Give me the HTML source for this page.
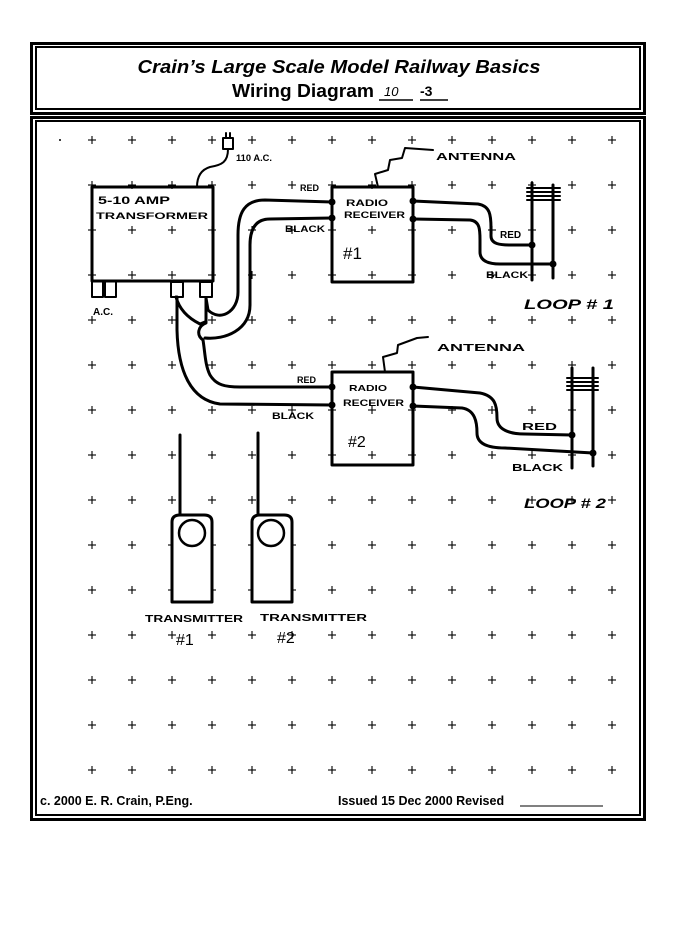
<!DOCTYPE html>
<html><head><meta charset="utf-8"><style>
html,body{margin:0;padding:0;background:#fff;}
svg{display:block;}
.h{font-family:"Liberation Sans",sans-serif;font-weight:bold;fill:#000;}
</style></head><body>
<svg width="680" height="936" viewBox="0 0 680 936" xmlns="http://www.w3.org/2000/svg">
<defs>
<pattern id="cross" patternUnits="userSpaceOnUse" x="87" y="135" width="40" height="45">
<line x1="1" y1="5" x2="9" y2="5" stroke="#000" stroke-width="1.1"/>
<line x1="5" y1="1" x2="5" y2="9" stroke="#000" stroke-width="1.1"/>
</pattern>
</defs>
<g fill="none" stroke="#000">
  <rect x="31.5" y="43.5" width="613" height="70" stroke-width="3"/>
  <rect x="36" y="47" width="604" height="62" stroke-width="2"/>
  <rect x="31.5" y="117.5" width="613" height="702" stroke-width="3"/>
  <rect x="36" y="121" width="604" height="694" stroke-width="2"/>
</g>
<text class="h" x="339" y="73" font-size="18.5" font-style="italic" text-anchor="middle" textLength="403" lengthAdjust="spacingAndGlyphs">Crain’s Large Scale Model Railway Basics</text>
<text class="h" x="232" y="97" font-size="18" textLength="142" lengthAdjust="spacingAndGlyphs">Wiring Diagram</text>
<text x="384" y="96" font-family="Liberation Sans,sans-serif" font-size="13" font-style="italic">10</text>
<text x="420" y="96" font-family="Liberation Sans,sans-serif" font-size="14" font-weight="bold">-3</text>
<g stroke="#000" stroke-width="1.5"><line x1="379" y1="100" x2="413" y2="100"/><line x1="420" y1="100" x2="448" y2="100"/></g>

<rect x="87" y="135" width="560" height="675" fill="url(#cross)"/>
<circle cx="60" cy="140" r="1" fill="#000"/>

<g fill="none" stroke="#000" stroke-width="3" stroke-linecap="round" stroke-linejoin="round">
  <rect x="92" y="187" width="121" height="94"/>
  <rect x="332" y="187" width="81" height="95"/>
  <rect x="332" y="372" width="81" height="93"/>
  <line x1="532" y1="183" x2="532" y2="280"/>
  <line x1="553" y1="185" x2="553" y2="278"/>
  <g stroke-width="2"><line x1="527" y1="188" x2="560" y2="188"/><line x1="527" y1="192" x2="560" y2="192"/><line x1="527" y1="196" x2="560" y2="196"/><line x1="527" y1="200" x2="560" y2="200"/></g>
  <line x1="572" y1="368" x2="572" y2="468"/>
  <line x1="593" y1="368" x2="593" y2="466"/>
  <g stroke-width="2"><line x1="567" y1="378" x2="598" y2="378"/><line x1="567" y1="382" x2="598" y2="382"/><line x1="567" y1="386" x2="598" y2="386"/><line x1="567" y1="390" x2="598" y2="390"/></g>
  <path d="M413,201 L478,204 C490,206 491,215 491,228 L491,236 C491,244 500,245 510,245 L532,245"/>
  <path d="M413,219 L470,220 C480,221 480,230 480,240 L480,252 C480,262 490,264 500,264 L553,264"/>
  <path d="M413,387 L480,393 C495,396 497,405 497,418 C497,430 510,434 525,434 L572,435"/>
  <path d="M413,406 L462,408 C475,410 477,422 477,433 C477,445 490,448 505,448 L593,453"/>
  <path d="M332,202 L265,200 C245,200 238,212 238,235 L238,292 C238,312 220,322 208,310 L206,298"/>
  <path d="M332,218 L270,219 C255,219 250,230 250,245 L250,305 C250,330 225,340 205,338"/>
  <path d="M176,297 C180,312 192,320 200,324 L205,322"/>
  <path d="M206,298 L206,323 C198,326 196,335 203,340 C205,352 205,365 210,375 C216,385 225,387 240,387 L332,387"/>
  <path d="M177,297 L177,330 C178,370 190,400 220,404 L332,405"/>
  <g stroke-width="2"><rect x="171" y="282" width="12" height="15"/><rect x="200" y="282" width="12" height="15"/>
  <rect x="92" y="281" width="11" height="16"/><rect x="105" y="281" width="11" height="16"/></g>
  <g stroke-width="2"><rect x="223" y="138" width="10" height="11" fill="#fff"/><line x1="226" y1="138" x2="226" y2="133"/><line x1="230" y1="138" x2="230" y2="133"/></g>
  <path d="M228,149 C228,162 222,165 210,167 C200,170 197,178 197,187" stroke-width="2"/>
  <path d="M378,187 L375,174 L388,170 L390,160 L402,158 L405,148 L433,150" stroke-width="2"/>
  <path d="M385,372 L383,357 L397,353 L398,345 L417,338 L428,337" stroke-width="2"/>
  <line x1="180" y1="435" x2="180" y2="515"/>
  <line x1="258" y1="433" x2="258" y2="515"/>
  <path d="M172,602 L172,522 Q172,515 180,515 L204,515 Q212,515 212,522 L212,602 Z" fill="#fff"/>
  <path d="M252,602 L252,522 Q252,515 260,515 L284,515 Q292,515 292,522 L292,602 Z" fill="#fff"/>
  <circle cx="192" cy="533" r="13" stroke-width="2.5"/>
  <circle cx="271" cy="533" r="13" stroke-width="2.5"/>
</g>
<g fill="#000">
  <circle cx="332" cy="202" r="3.5"/><circle cx="332" cy="218" r="3.5"/>
  <circle cx="413" cy="201" r="3.5"/><circle cx="413" cy="219" r="3.5"/>
  <circle cx="532" cy="245" r="3.5"/><circle cx="553" cy="264" r="3.5"/>
  <circle cx="332" cy="387" r="3.5"/><circle cx="332" cy="405" r="3.5"/>
  <circle cx="413" cy="387" r="3.5"/><circle cx="413" cy="406" r="3.5"/>
  <circle cx="572" cy="435" r="3.5"/><circle cx="593" cy="453" r="3.5"/>
</g>
<g font-family="Liberation Sans,sans-serif" font-weight="bold" fill="#000">
  <text x="98" y="204" font-size="11" textLength="72" lengthAdjust="spacingAndGlyphs">5-10 AMP</text>
  <text x="96" y="219" font-size="9.5" textLength="112" lengthAdjust="spacingAndGlyphs">TRANSFORMER</text>
  <text x="93" y="315" font-size="10">A.C.</text>
  <text x="236" y="161" font-size="9" textLength="36" lengthAdjust="spacingAndGlyphs">110 A.C.</text>
  <text x="436" y="160" font-size="10" textLength="80" lengthAdjust="spacingAndGlyphs">ANTENNA</text>
  <text x="437" y="351" font-size="10" textLength="88" lengthAdjust="spacingAndGlyphs">ANTENNA</text>
  <text x="300" y="191" font-size="9">RED</text>
  <text x="285" y="232" font-size="9" textLength="40" lengthAdjust="spacingAndGlyphs">BLACK</text>
  <text x="346" y="206" font-size="9" textLength="42" lengthAdjust="spacingAndGlyphs">RADIO</text>
  <text x="344" y="218" font-size="9" textLength="61" lengthAdjust="spacingAndGlyphs">RECEIVER</text>
  <text x="343" y="259" font-size="17" font-weight="normal">#1</text>
  <text x="500" y="238" font-size="10">RED</text>
  <text x="486" y="278" font-size="9.5" textLength="42" lengthAdjust="spacingAndGlyphs">BLACK</text>
  <text x="524" y="309" font-size="14" font-style="italic" textLength="90" lengthAdjust="spacingAndGlyphs">LOOP # 1</text>
  <text x="297" y="383" font-size="9">RED</text>
  <text x="272" y="419" font-size="9.5" textLength="42" lengthAdjust="spacingAndGlyphs">BLACK</text>
  <text x="349" y="391" font-size="8.5" textLength="38" lengthAdjust="spacingAndGlyphs">RADIO</text>
  <text x="343" y="406" font-size="9" textLength="61" lengthAdjust="spacingAndGlyphs">RECEIVER</text>
  <text x="348" y="447" font-size="16" font-weight="normal">#2</text>
  <text x="522" y="430" font-size="10" textLength="35" lengthAdjust="spacingAndGlyphs">RED</text>
  <text x="512" y="471" font-size="10" textLength="51" lengthAdjust="spacingAndGlyphs">BLACK</text>
  <text x="524" y="508" font-size="14" font-style="italic" textLength="82" lengthAdjust="spacingAndGlyphs">LOOP # 2</text>
  <text x="145" y="622" font-size="10" textLength="98" lengthAdjust="spacingAndGlyphs">TRANSMITTER</text>
  <text x="176" y="645" font-size="16" font-weight="normal">#1</text>
  <text x="260" y="621" font-size="10" textLength="107" lengthAdjust="spacingAndGlyphs">TRANSMITTER</text>
  <text x="277" y="643" font-size="16" font-weight="normal">#2</text>
  <text x="40" y="805" font-size="12.5">c. 2000 E. R. Crain, P.Eng.</text>
  <text x="338" y="805" font-size="12.5">Issued 15 Dec 2000 Revised</text>
</g>
<line x1="520" y1="806" x2="603" y2="806" stroke="#000" stroke-width="1"/>
</svg>
</body></html>
